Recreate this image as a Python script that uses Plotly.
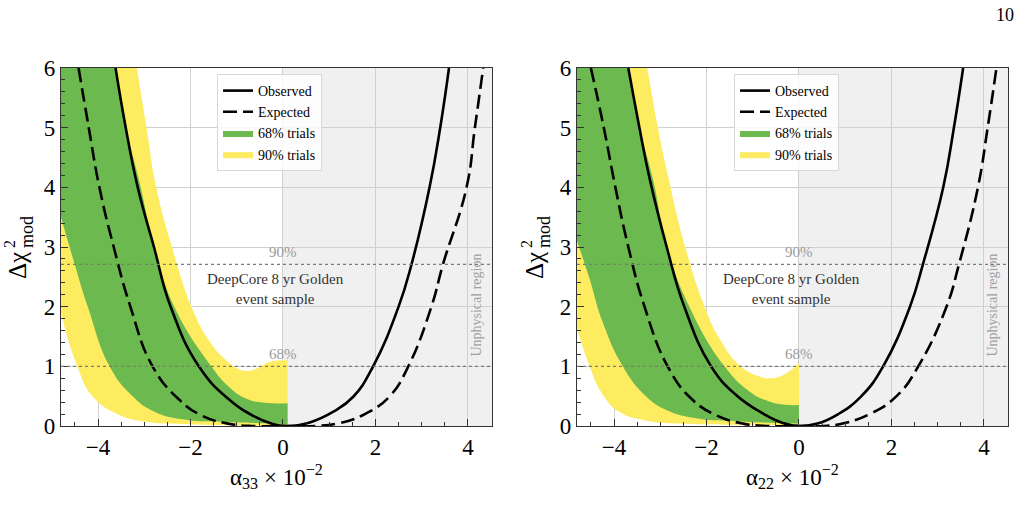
import plotly.graph_objects as go

# ---------------- data ----------------
# Left panel: alpha_33
obs33_x = [-3.62, -3.40, -3.14, -2.79, -2.43, -1.82, -1.19, -0.62, -0.25, 0.08,
           0.58, 1.09, 1.52, 1.95, 2.50, 2.78, 3.17, 3.40, 3.59]
obs33_y = [6.0, 5.0, 4.0, 3.0, 2.0, 1.0, 0.46, 0.16, 0.04, 0.0,
           0.06, 0.24, 0.49, 1.0, 2.0, 2.71, 4.0, 5.0, 6.0]
exp33_x = [-4.42, -4.20, -3.97, -3.66, -3.30, -2.82, -2.27, -1.77, -1.19, -0.60,
           0.0, 0.70, 1.23, 1.77, 2.31, 2.71, 3.21, 3.46, 3.97, 4.15, 4.33]
exp33_y = [6.0, 5.0, 4.0, 3.0, 2.0, 1.0, 0.46, 0.18, 0.04, 0.0,
           0.0, 0.0, 0.05, 0.2, 0.5, 1.0, 2.0, 2.71, 4.0, 5.0, 6.0]
g33_lo_x = [-4.8, -4.5, -4.22, -3.75, -3.28, -2.78, -2.06, -1.34, -0.62, 0.1]
g33_lo_y = [3.5, 2.7, 2.0, 1.0, 0.52, 0.24, 0.10, 0.07, 0.05, 0.03]
g33_hi_x = [-4.8, -3.83, -3.62, -3.40, -3.12, -2.78, -2.35, -1.55, -1.20, -0.80, -0.40, 0.1]
g33_hi_y = [7.0, 7.0, 6.0, 5.0, 4.15, 3.0, 2.0, 1.0, 0.68, 0.46, 0.39, 0.38]
y33_lo_x = [-4.8, -4.45, -4.10, -3.55, -3.0, -2.06, -1.0, 0.1]
y33_lo_y = [1.9, 1.0, 0.48, 0.19, 0.075, 0.03, 0.01, 0.01]
y33_hi_x = [-4.8, -3.37, -3.16, -2.95, -2.74, -2.40, -1.98, -1.63, -1.27, -0.91, -0.65, -0.26, 0.1]
y33_hi_y = [7.0, 7.0, 6.0, 5.0, 4.0, 3.0, 2.0, 1.47, 1.13, 0.94, 0.94, 1.08, 1.1]

# Right panel: alpha_22
obs22_x = [-3.69, -3.45, -3.23, -2.86, -2.48, -1.90, -1.36, -0.78, -0.35, 0.0,
           0.40, 0.85, 1.35, 1.82, 2.40, 2.68, 3.12, 3.35, 3.55]
obs22_y = [6.0, 5.0, 4.15, 3.0, 2.0, 1.0, 0.52, 0.21, 0.05, 0.0,
           0.04, 0.2, 0.5, 1.0, 2.0, 2.71, 4.0, 5.0, 6.0]
exp22_x = [-4.50, -4.22, -3.97, -3.69, -3.34, -2.84, -2.33, -1.79, -1.21, -0.64,
           0.0, 0.55, 0.99, 1.53, 2.11, 2.58, 3.19, 3.46, 3.87, 4.08, 4.27]
exp22_y = [6.0, 5.0, 4.0, 3.0, 2.0, 1.0, 0.46, 0.18, 0.04, 0.0,
           0.0, 0.0, 0.05, 0.2, 0.5, 1.0, 2.0, 2.71, 4.0, 5.0, 6.0]
g22_lo_x = [-4.8, -4.53, -4.25, -3.81, -3.34, -2.87, -2.22, -1.36, 0.0]
g22_lo_y = [3.1, 2.47, 1.75, 1.0, 0.52, 0.27, 0.13, 0.08, 0.04]
g22_hi_x = [-4.8, -3.93, -3.69, -3.45, -3.16, -2.85, -2.37, -1.61, -1.07, -0.64, -0.35, 0.0]
g22_hi_y = [7.0, 7.0, 6.0, 5.0, 4.15, 3.0, 2.0, 1.0, 0.58, 0.41, 0.36, 0.35]
y22_lo_x = [-4.8, -4.53, -4.22, -3.85, -3.30, -2.60, -1.50, 0.0]
y22_lo_y = [1.65, 1.0, 0.5, 0.22, 0.09, 0.04, 0.02, 0.02]
y22_hi_x = [-4.8, -3.51, -3.28, -3.05, -2.82, -2.46, -2.04, -1.72, -1.29, -0.85, -0.64, -0.35, 0.0]
y22_hi_y = [7.0, 7.0, 6.0, 5.0, 4.15, 3.0, 2.0, 1.47, 1.02, 0.83, 0.80, 0.85, 1.05]

x_ticks = [-4, -2, 0, 2, 4]
y_ticks = [0, 1, 2, 3, 4, 5, 6]
cl_levels = [2.71, 1.0]
cl_labels = ["90%", "68%"]
x_titles = ["α<sub>33</sub> × 10<sup>−2</sup>", "α<sub>22</sub> × 10<sup>−2</sup>"]

# ---------------- style ----------------
FONT = "Liberation Serif"
GREEN = "rgb(108,185,80)"
YELLOW = "rgb(253,236,96)"
XR = [-4.8, 4.52]
YR = [0, 6]
SM = 1.3

fig = go.Figure()

panels = [
    dict(obs=(obs33_x, obs33_y), exp=(exp33_x, exp33_y),
         glo=(g33_lo_x, g33_lo_y), ghi=(g33_hi_x, g33_hi_y),
         ylo=(y33_lo_x, y33_lo_y), yhi=(y33_hi_x, y33_hi_y),
         xa="x", ya="y", legend="legend"),
    dict(obs=(obs22_x, obs22_y), exp=(exp22_x, exp22_y),
         glo=(g22_lo_x, g22_lo_y), ghi=(g22_hi_x, g22_hi_y),
         ylo=(y22_lo_x, y22_lo_y), yhi=(y22_hi_x, y22_hi_y),
         xa="x2", ya="y2", legend="legend2"),
]

for p in panels:
    common = dict(xaxis=p["xa"], yaxis=p["ya"], legend=p["legend"])
    # 90% band
    fig.add_trace(go.Scatter(x=p["ylo"][0], y=p["ylo"][1], mode="lines",
                             line=dict(width=0, shape="spline", smoothing=SM),
                             showlegend=False, hoverinfo="skip", **common))
    fig.add_trace(go.Scatter(x=p["yhi"][0], y=p["yhi"][1], mode="lines", fill="tonexty",
                             fillcolor=YELLOW, line=dict(width=0, color=YELLOW, shape="spline", smoothing=SM),
                             name="90% trials", legendrank=4, **common))
    # 68% band
    fig.add_trace(go.Scatter(x=p["glo"][0], y=p["glo"][1], mode="lines",
                             line=dict(width=0, shape="spline", smoothing=SM),
                             showlegend=False, hoverinfo="skip", **common))
    fig.add_trace(go.Scatter(x=p["ghi"][0], y=p["ghi"][1], mode="lines", fill="tonexty",
                             fillcolor=GREEN, line=dict(width=0, color=GREEN, shape="spline", smoothing=SM),
                             name="68% trials", legendrank=3, **common))
    # curves
    fig.add_trace(go.Scatter(x=p["exp"][0], y=p["exp"][1], mode="lines",
                             line=dict(color="black", width=2.6, dash="14px,6px", shape="spline", smoothing=SM),
                             name="Expected", legendrank=2, **common))
    fig.add_trace(go.Scatter(x=p["obs"][0], y=p["obs"][1], mode="lines",
                             line=dict(color="black", width=2.6, shape="spline", smoothing=SM),
                             name="Observed", legendrank=1, **common))

axis_common = dict(
    showline=True, mirror=True, linecolor="#333", linewidth=1.2,
    showgrid=True, gridcolor="#d0d0d0", gridwidth=1,
    ticks="inside", ticklen=7, tickcolor="#333", tickwidth=1,
    zeroline=False, automargin=False,
    tickfont=dict(family=FONT, size=23, color="black"),
)
xdoms = [[61 / 1021, 492 / 1021], [577 / 1021, 1008 / 1021]]
ydom = [1 - 426 / 525, 1 - 68 / 525]

layout = dict(
    width=1021, height=525,
    margin=dict(l=0, r=0, t=0, b=0, autoexpand=False),
    paper_bgcolor="white", plot_bgcolor="white",
    font=dict(family=FONT, color="black"),
)
for i, suf in enumerate(["", "2"]):
    layout["xaxis" + suf] = dict(axis_common, domain=xdoms[i], range=XR, tickvals=x_ticks,
                                 anchor="y" + suf,
                                 minor=dict(dtick=0.5, ticks="inside", ticklen=4, tickcolor="#333", showgrid=False))
    layout["yaxis" + suf] = dict(axis_common, domain=ydom, range=YR, tickvals=y_ticks,
                                 anchor="x" + suf,
                                 minor=dict(dtick=0.2, ticks="inside", ticklen=4, tickcolor="#333", showgrid=False))

fig.update_layout(**layout)

shapes = []
ann = []


def A(**kw):
    d = dict(showarrow=False, xanchor="center", yanchor="middle")
    d.update(kw)
    ann.append(d)


for i, suf in enumerate(["", "2"]):
    xr, yr = "x" + suf, "y" + suf
    # unphysical region shading
    shapes.append(dict(type="rect", xref=xr, yref=yr + " domain", x0=0, x1=XR[1], y0=0, y1=1,
                       fillcolor="#f0f0f0", line=dict(width=0), layer="below"))
    for lev, lab in zip(cl_levels, cl_labels):
        shapes.append(dict(type="line", xref=xr + " domain", yref=yr, x0=0, x1=1, y0=lev, y1=lev,
                           line=dict(color="#7a7a7a", width=1.3, dash="dot"), layer="above"))
        A(xref=xr, yref=yr, x=0, y=lev, yshift=2, yanchor="bottom", text=lab,
          font=dict(family=FONT, size=15, color="#9a9a9a"))
    A(xref=xr, yref=yr, x=-0.16, y=2.29, text="DeepCore 8 yr Golden<br>event sample", align="center",
      font=dict(family=FONT, size=15, color="#333"))
    A(xref=xr, yref=yr, x=4.19, y=2.03, text="Unphysical region", textangle=-90,
      font=dict(family=FONT, size=14, color="#a0a0a0"))
    # axis titles
    cx = [276, 792][i]
    A(xref="paper", yref="paper", x=cx / 1021, y=1 - 476 / 525, text=x_titles[i],
      font=dict(family=FONT, size=23, color="black"))
    off = [0, 517][i]
    A(xref="paper", yref="paper", x=(17 + off) / 1021, y=1 - 266 / 525, text="Δχ",
      textangle=-90, font=dict(family=FONT, size=25, color="black"))
    A(xref="paper", yref="paper", x=(10 + off) / 1021, y=1 - 244 / 525, text="2",
      textangle=-90, font=dict(family=FONT, size=16, color="black"))
    A(xref="paper", yref="paper", x=(27 + off) / 1021, y=1 - 232 / 525, text="mod",
      textangle=-90, font=dict(family=FONT, size=18, color="black"))

A(xref="paper", yref="paper", x=1005 / 1021, y=1 - 15 / 525, text="10",
  font=dict(family=FONT, size=18, color="black"))

leg_common = dict(bgcolor="rgba(255,255,255,0.82)", bordercolor="#d8d8d8", borderwidth=1,
                  font=dict(family=FONT, size=14, color="black"), xanchor="left", yanchor="top",
                  itemwidth=30, tracegroupgap=0, traceorder="normal")
fig.update_layout(shapes=shapes, annotations=ann,
                  legend=dict(leg_common, x=217 / 1021, y=1 - 74 / 525),
                  legend2=dict(leg_common, x=734 / 1021, y=1 - 74 / 525))

fig.write_html("out.html")
